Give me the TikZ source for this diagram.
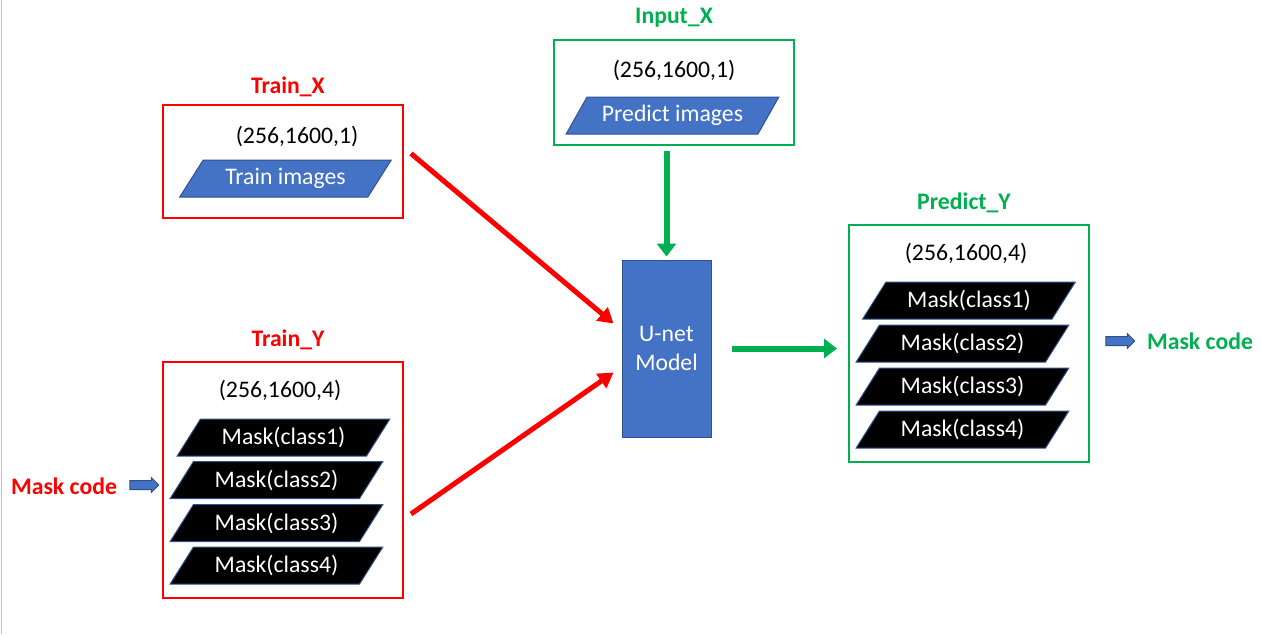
\documentclass[tikz,border=0pt]{standalone}
\usepackage{fontspec}
\setmainfont{Carlito}
\usetikzlibrary{shapes.geometric,shapes.arrows,arrows.meta}

\definecolor{pptred}{HTML}{FF0000}
\definecolor{pptgreen}{HTML}{00B050}
\definecolor{pptblue}{HTML}{4472C4}
\definecolor{pptedge}{HTML}{2F528F}

\begin{document}
\begin{tikzpicture}[x=0.2mm, y=-0.2mm,
    font=\fontsize{13.5}{16}\selectfont,
    databox/.style={draw, line width=0.4mm, minimum width=48mm, inner sep=0pt},
    boxtitle/.style={font=\fontsize{13.5}{16}\selectfont\bfseries},
    slanted/.style={trapezium, trapezium left angle=50, trapezium right angle=130,
        trapezium stretches=true, minimum width=42.6mm, minimum height=7.4mm,
        inner sep=0pt, draw=pptedge, line width=0.2mm},
    imgshape/.style={slanted, fill=pptblue, text=white},
    maskshape/.style={slanted, fill=black, text=white},
    blockarrow/.style={single arrow, fill=pptblue, draw=pptedge, line width=0.2mm,
        minimum height=5.8mm, minimum width=0pt, inner xsep=0pt, inner ysep=0.8mm,
        single arrow head extend=0.6mm},
    redarrow/.style={draw=pptred, line width=1mm, -{Triangle[length=3mm, width=3.4mm]}},
    greenarrow/.style={draw=pptgreen, line width=1.2mm, -{Triangle[length=2.6mm, width=3.8mm]}}]
\useasboundingbox (0,0) rectangle (1261,634);
\draw[black!25, line width=0.3mm] (1.5,0) -- (1.5,634);

% Train_X
\node[databox, draw=pptred, minimum height=22.6mm] (trainx) at (283,161.5) {};
\node[boxtitle, text=pptred] (trainxtitle) at (288,87) {Train\_X};
\node (trainxshape) at (297,136) {(256,1600,1)};
\node[imgshape] (trainimg) at (285.5,178.5) {Train images};

% Train_Y
\node[databox, draw=pptred, minimum height=47.2mm] (trainy) at (283,480) {};
\node[boxtitle, text=pptred] (trainytitle) at (288,340) {Train\_Y};
\node (trainyshape) at (280,390) {(256,1600,4)};
\node[maskshape] (tmask1) at (283.5,437.5) {Mask(class1)};
\node[maskshape] (tmask2) at (276.5,480) {Mask(class2)};
\node[maskshape] (tmask3) at (276.5,523) {Mask(class3)};
\node[maskshape] (tmask4) at (276.5,565.5) {Mask(class4)};

% Mask code (input side)
\node[boxtitle, text=pptred] (codein) at (64,486) {Mask code};
\node[blockarrow] (codeinarrow) at (142,485) {};

% Input_X
\node[databox, draw=pptgreen, minimum height=21mm] (inputx) at (674,92.5) {};
\node[boxtitle, text=pptgreen] (inputxtitle) at (674,18) {Input\_X};
\node (inputxshape) at (674,70) {(256,1600,1)};
\node[imgshape] (predimg) at (672.5,115.5) {Predict images};

% U-net model
\node[draw=pptedge, line width=0.2mm, fill=pptblue, text=white, align=center,
    minimum width=17.8mm, minimum height=35.4mm, inner sep=0pt] (unet) at (666.5,348.5) {U-net\\Model};

% Predict_Y
\node[databox, draw=pptgreen, minimum height=47.4mm] (predy) at (969,343.5) {};
\node[boxtitle, text=pptgreen] (predytitle) at (964,203) {Predict\_Y};
\node (predyshape) at (966,253) {(256,1600,4)};
\node[maskshape] (pmask1) at (969,300.5) {Mask(class1)};
\node[maskshape] (pmask2) at (962.5,343.5) {Mask(class2)};
\node[maskshape] (pmask3) at (962.5,386.5) {Mask(class3)};
\node[maskshape] (pmask4) at (962.5,429.5) {Mask(class4)};

% Mask code (output side)
\node[blockarrow] (codeoutarrow) at (1118,341) {};
\node[boxtitle, text=pptgreen] (codeout) at (1200,341) {Mask code};

% Arrows into and out of the model
\draw[redarrow] ([shift={(7,-8)}]trainx.east) -- ([shift={(-8,-25)}]unet.west);
\draw[redarrow] ([shift={(7,34)}]trainy.east) -- ([shift={(-8,24)}]unet.west);
\draw[greenarrow] ([shift={(0,5)}]unet.north |- inputx.south) -- ([shift={(0,-3)}]unet.north);
\draw[greenarrow] ([shift={(20,0)}]unet.east) -- ([shift={(-11,0)}]unet.east -| predy.west);
\end{tikzpicture}
\end{document}
